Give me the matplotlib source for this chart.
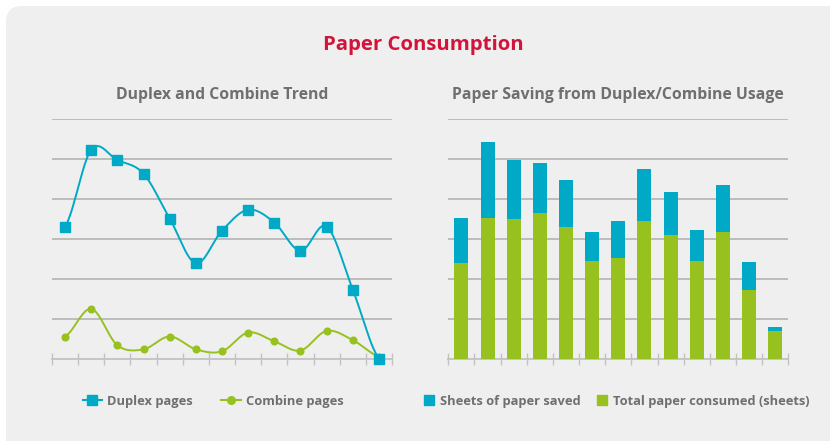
import numpy as np
import matplotlib
matplotlib.use('Agg')  # headless rendering
import matplotlib.pyplot as plt
from matplotlib.patches import FancyBboxPatch
from matplotlib.lines import Line2D

# data (arbitrary units, grid step = 100)
periods = list(range(13))
duplex_pages = [332, 524, 498, 464, 352, 240, 322, 374, 342, 271, 332, 174, 2]
combine_pages = [57, 126, 35, 25, 57, 25, 20, 67, 45, 22, 71, 48, 7]
paper_consumed = [241, 353, 351, 366, 331, 246, 254, 346, 311, 246, 318, 173, 71]
paper_saved = [112, 190, 147, 125, 117, 72, 92, 130, 107, 77, 118, 70, 10]

BLUE = '#00a9c6'
GREEN = '#97c11f'
RED = '#d2143a'
TEXT = '#6f6f6f'
GRID = '#b8b8b8'
PANEL = '#efefef'

plt.rcParams['font.family'] = ['Open Sans', 'DejaVu Sans']

W, H = 830, 441


def smooth(y, steps=24):
    """Catmull-Rom curve through evenly spaced points (for drawing only)."""
    y = np.asarray(y, float)
    p = np.concatenate([[y[0]], y, [y[-1]]])
    t = np.linspace(0, 1, steps, endpoint=False)
    xs, ys = [], []
    for i in range(len(y) - 1):
        p0, p1, p2, p3 = p[i:i + 4]
        ys.extend(0.5 * (2 * p1 + (p2 - p0) * t
                         + (2 * p0 - 5 * p1 + 4 * p2 - p3) * t ** 2
                         + (3 * p1 - p0 - 3 * p2 + p3) * t ** 3))
        xs.extend(i + t)
    xs.append(len(y) - 1)
    ys.append(y[-1])
    return np.array(xs), np.array(ys)


def style_axis(ax):
    ax.set_facecolor('none')
    ax.set_xlim(-0.5, 12.5)
    ax.set_ylim(0, 600)
    ax.set_yticks(range(100, 601, 100))
    ax.yaxis.grid(True, color=GRID, lw=1.3)
    ax.set_axisbelow(True)
    ax.tick_params(axis='y', length=0, labelleft=False)
    ax.set_xticks(np.arange(-0.5, 13, 1))
    ax.tick_params(axis='x', direction='inout', length=8.5, width=1,
                   color='#c2c2c2', labelbottom=False)
    for side in ('top', 'right', 'left'):
        ax.spines[side].set_visible(False)
    ax.spines['bottom'].set_color('#c2c2c2')
    ax.spines['bottom'].set_linewidth(1.3)


fig = plt.figure(figsize=(W / 100, H / 100), dpi=100, facecolor='white')

# rounded background panel (bleeds off right and bottom)
panel = FancyBboxPatch((6, -40), 900, H - 6 + 40,
                       boxstyle='round,pad=0,rounding_size=16',
                       fc=PANEL, ec='none', transform=None, zorder=0)
fig.add_artist(panel)

fig.text(423 / W, 1 - 45 / H, 'Paper Consumption', color=RED,
         fontsize=14.7, fontweight='bold', ha='center', va='center')
fig.text(222 / W, 1 - 95 / H, 'Duplex and Combine Trend', color=TEXT,
         fontsize=11.3, fontweight='bold', ha='center', va='center')
fig.text(618 / W, 1 - 95 / H, 'Paper Saving from Duplex/Combine Usage',
         color=TEXT, fontsize=11.3, fontweight='bold', ha='center', va='center')

bottom = 1 - 359.3 / H
height = 240 / H
ax1 = fig.add_axes([52 / W, bottom, 340 / W, height])
ax2 = fig.add_axes([448.3 / W, bottom, 340 / W, height])
style_axis(ax1)
style_axis(ax2)

# left: smoothed lines
for vals, col, mk, ms in ((combine_pages, GREEN, 'o', 4.8),
                          (duplex_pages, BLUE, 's', 6.8)):
    sx, sy = smooth(vals)
    ax1.plot(sx, sy, color=col, lw=1.4, zorder=3, clip_on=False)
    ax1.plot(periods, vals, ls='none', marker=mk, ms=ms, color=col,
             mec=col, zorder=4, clip_on=False)

# right: stacked bars
ax2.bar(periods, paper_consumed, width=0.535, color=GREEN, zorder=3)
ax2.bar(periods, paper_saved, width=0.535, bottom=paper_consumed,
        color=BLUE, zorder=3)

leg_font = {'size': 9.3, 'weight': 'bold'}
h1 = [Line2D([], [], color=BLUE, lw=1.5, marker='s', ms=7),
      Line2D([], [], color=GREEN, lw=1.5, marker='o', ms=5.5)]
lg1 = fig.legend(h1, ['Duplex pages', 'Combine pages'], loc='center',
                 bbox_to_anchor=(213 / W, 1 - 401 / H), ncol=2, frameon=False,
                 prop=leg_font, handlelength=1.5, handletextpad=0.4,
                 columnspacing=2.2)
h2 = [Line2D([], [], ls='none', marker='s', ms=7.5, color=BLUE),
      Line2D([], [], ls='none', marker='s', ms=7.5, color=GREEN)]
lg2 = fig.legend(h2, ['Sheets of paper saved', 'Total paper consumed (sheets)'],
                 loc='center', bbox_to_anchor=(617 / W, 1 - 401 / H), ncol=2,
                 frameon=False, prop=leg_font, handlelength=0.7,
                 handletextpad=0.5, columnspacing=1.3)
for lg in (lg1, lg2):
    for t in lg.get_texts():
        t.set_color(TEXT)

fig.savefig('out.png', dpi=100, facecolor='white')
